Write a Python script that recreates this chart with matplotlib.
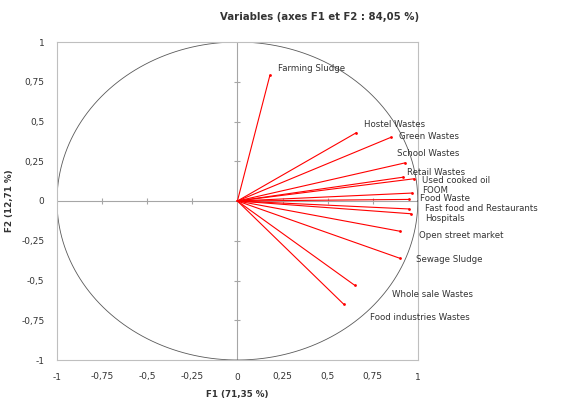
import numpy as np
import matplotlib.pyplot as plt

# variable names and their coordinates on F1 / F2
names = ['Farming Sludge', 'Hostel Wastes', 'Green Wastes', 'School Wastes',
         'Retail Wastes', 'Used cooked oil', 'FOOM', 'Food Waste',
         'Fast food and Restaurants', 'Hospitals', 'Open street market',
         'Sewage Sludge', 'Whole sale Wastes', 'Food industries Wastes']
f1 = [0.18, 0.66, 0.85, 0.93, 0.92, 0.98, 0.97, 0.95, 0.95, 0.96, 0.90, 0.90, 0.65, 0.59]
f2 = [0.79, 0.43, 0.40, 0.24, 0.15, 0.14, 0.05, 0.01, -0.05, -0.08, -0.19, -0.36, -0.53, -0.65]

# where the labels sit (data coords)
lab_x = [0.227, 0.702, 0.895, 0.884, 0.939, 1.022, 1.022, 1.011, 1.039, 1.039, 1.006, 0.989, 0.856, 0.735]
lab_y = [0.836, 0.484, 0.403, 0.296, 0.182, 0.126, 0.069, 0.013, -0.050, -0.107, -0.214, -0.365, -0.591, -0.730]

ticks = [-1, -0.75, -0.5, -0.25, 0, 0.25, 0.5, 0.75, 1]
tick_labels = ['-1', '-0,75', '-0,5', '-0,25', '0', '0,25', '0,5', '0,75', '1']

fig = plt.figure(figsize=(5.7, 4), dpi=100)
ax = fig.add_axes([0.1, 0.1, 0.633, 0.795])
ax.set_xlim(-1, 1)
ax.set_ylim(-1, 1)

for s in ax.spines.values():
    s.set_color('#bfbfbf')
    s.set_linewidth(0.8)

ax.axhline(0, color='#a6a6a6', lw=0.8, zorder=1)
ax.axvline(0, color='#a6a6a6', lw=0.8, zorder=1)
# small tick marks on the zero lines
tk = [t for t in ticks if t not in (-1, 0, 1)]
ax.plot(tk, [0]*len(tk), ls='none', marker='|', ms=5, color='#a6a6a6', mew=0.8)
ax.plot([0]*len(tk), tk, ls='none', marker='_', ms=5, color='#a6a6a6', mew=0.8)

th = np.linspace(0, 2*np.pi, 400)
ax.plot(np.cos(th), np.sin(th), color='#595959', lw=0.6, zorder=2)

for x, y in zip(f1, f2):
    ax.plot([0, x], [0, y], color='red', lw=0.8, zorder=3)
ax.scatter(f1, f2, s=4, color='red', zorder=4, linewidths=0)

for n, x, y in zip(names, lab_x, lab_y):
    ax.text(x, y, n, fontsize=6.2, color='#333333', va='center', ha='left',
            clip_on=False, zorder=5)

ax.set_xticks(ticks)
ax.set_xticklabels(tick_labels)
ax.set_yticks(ticks)
ax.set_yticklabels(tick_labels)
ax.tick_params(length=0, labelsize=6.5, labelcolor='#333333', pad=9)

ax.set_xlabel('F1 (71,35 %)', fontsize=6.3, fontweight='bold', color='#333333', labelpad=6)
ax.set_ylabel('F2 (12,71 %)', fontsize=6.3, fontweight='bold', color='#333333', labelpad=5)
fig.text(0.561, 0.957, 'Variables (axes F1 et F2 : 84,05 %)', fontsize=7.3,
         fontweight='bold', ha='center', va='center', color='#333333')

fig.savefig('out.png', dpi=100)
